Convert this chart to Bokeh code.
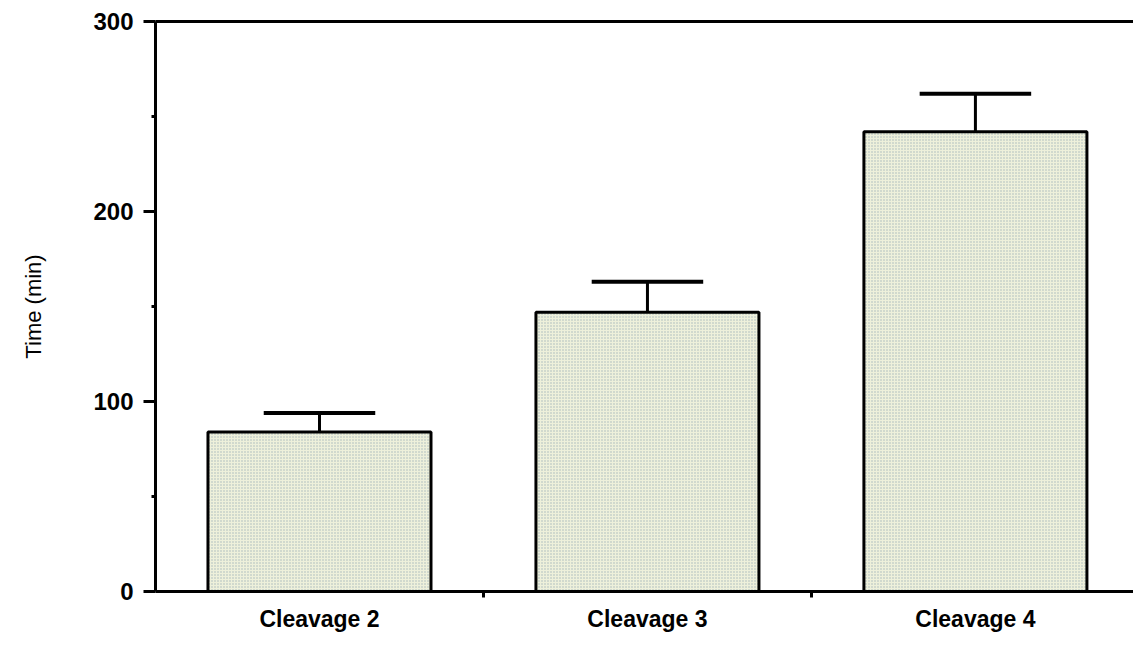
from bokeh.plotting import figure
from bokeh.models import (ColumnDataSource, Range1d, FixedTicker, LinearAxis)
from bokeh.embed import file_html
from bokeh.resources import INLINE

# Mean duration of each cleavage cycle with its standard error
categories = ["Cleavage 2", "Cleavage 3", "Cleavage 4"]
mean_min = [84, 147, 242]
err_min = [10, 16, 20]

positions = [0.5, 1.5, 2.5]
bar_width = 0.68
cap_half = 0.17

src = ColumnDataSource(dict(
    x=positions,
    top=mean_min,
    upper=[m + e for m, e in zip(mean_min, err_min)],
    cap_l=[x - cap_half for x in positions],
    cap_r=[x + cap_half for x in positions],
))

p = figure(width=1133, height=647, output_backend="svg", toolbar_location=None,
           x_range=Range1d(0, 2.982), y_range=Range1d(0, 300),
           min_border_left=155, min_border_right=0, min_border_top=21,
           min_border_bottom=56, x_axis_type=None, y_axis_type=None)
p.outline_line_color = None
p.grid.visible = False
p.background_fill_color = "white"
p.border_fill_color = "white"

FONT = "Liberation Sans"

# bars with a stippled fill
p.vbar(x="x", top="top", bottom=0, width=bar_width, source=src,
       fill_color="#eef0db", line_color="black", line_width=3,
       hatch_pattern="dot", hatch_color="#a4b6bc", hatch_scale=3.0,
       hatch_weight=1.4, hatch_alpha=1.0)

# one-sided error bars
p.segment(x0="x", y0="top", x1="x", y1="upper", source=src,
          line_color="black", line_width=3)
p.segment(x0="cap_l", y0="upper", x1="cap_r", y1="upper", source=src,
          line_color="black", line_width=4)

# y axis
yax = LinearAxis(ticker=FixedTicker(ticks=[0, 100, 200, 300],
                                    minor_ticks=[50, 150, 250]))
yax.axis_label = "Time (min)"
yax.axis_label_text_font = FONT
yax.axis_label_text_font_style = "normal"
yax.axis_label_text_font_size = "22px"
yax.axis_label_text_color = "black"
yax.axis_label_standoff = 44
yax.major_label_text_font = FONT
yax.major_label_text_font_style = "bold"
yax.major_label_text_font_size = "24px"
yax.major_label_text_color = "black"
yax.major_label_standoff = 10
yax.axis_line_width = 3
yax.major_tick_line_width = 3
yax.minor_tick_line_width = 3
yax.major_tick_in = 0
yax.major_tick_out = 12
yax.minor_tick_in = 0
yax.minor_tick_out = 4
p.add_layout(yax, "left")

# x axis: labels at bar centres, small ticks between categories
xax = LinearAxis(ticker=FixedTicker(ticks=positions, minor_ticks=[1, 2]))
xax.major_label_overrides = {pos: lab for pos, lab in zip(positions, categories)}
xax.major_label_text_font = FONT
xax.major_label_text_font_style = "bold"
xax.major_label_text_font_size = "23px"
xax.major_label_text_color = "black"
xax.major_label_standoff = 8
xax.axis_line_width = 3
xax.major_tick_in = 0
xax.major_tick_out = 0
xax.minor_tick_in = 0
xax.minor_tick_out = 6
xax.minor_tick_line_width = 3
p.add_layout(xax, "below")

# top border line
top = LinearAxis(ticker=FixedTicker(ticks=[]))
top.axis_line_width = 3
top.major_label_text_font_size = "0px"
top.major_tick_line_color = None
top.minor_tick_line_color = None
top.major_label_standoff = 0
p.add_layout(top, "above")

open("out.html", "w").write(file_html(p, INLINE))
